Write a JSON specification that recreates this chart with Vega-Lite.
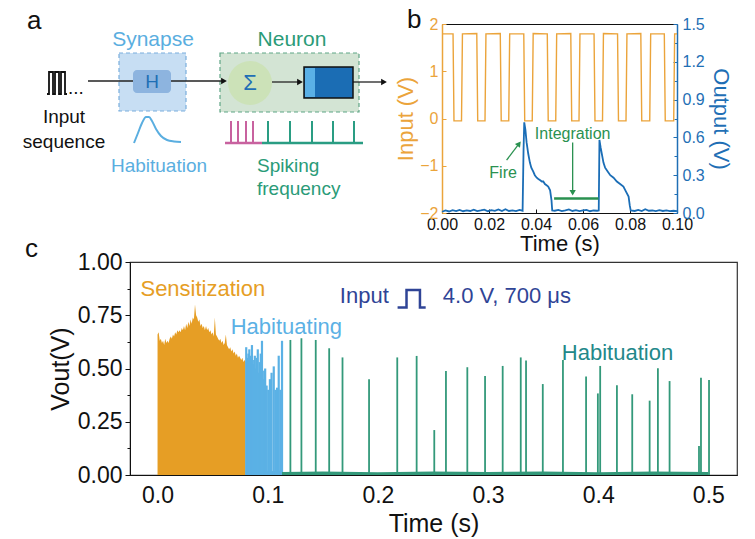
{
"$schema":"https://vega.github.io/schema/vega-lite/v6.json",
"width":607,"height":213,
"autosize":{"type":"none"},
"padding":{"left":130,"top":262,"right":18,"bottom":64},
"background":"white",
"config":{"view":{"stroke":"#333","strokeWidth":1.2},"font":"Liberation Sans","axis":{"grid":false,"labelFont":"Liberation Sans","titleFont":"Liberation Sans","titleFontWeight":"normal","labelColor":"#111","titleColor":"#111","domainColor":"#111","tickColor":"#111","labelFlush":false,"labelOverlap":false},"text":{"font":"Liberation Sans"}},
"resolve":{"scale":{"x":"independent","y":"independent"},"axis":{"x":"independent","y":"independent"}},
"layer":[
{
"encoding":{
"x":{"field":"t","type":"quantitative","scale":{"domain":[-0.025,0.526],"nice":false,"zero":false},"axis":{"orient":"bottom","values":[0,0.1,0.2,0.3,0.4,0.5],"format":".1f","title":"Time (s)","labelFontSize":23,"titleFontSize":25,"ticks":false,"labelPadding":9,"titlePadding":4}},
"y":{"field":"v","type":"quantitative","scale":{"domain":[0,1],"nice":false,"zero":false},"axis":{"orient":"left","values":[0,0.25,0.5,0.75,1],"format":".2f","title":"Vout(V)","labelFontSize":23,"titleFontSize":25,"tickSize":5,"labelPadding":3,"titlePadding":4}}
},
"layer":[
{"data":{"values":[{"t":0,"v":0.66},{"t":0.001,"v":0.67},{"t":0.002,"v":0.63},{"t":0.003,"v":0.64},{"t":0.004,"v":0.62},{"t":0.005,"v":0.63},{"t":0.006,"v":0.61},{"t":0.007,"v":0.64},{"t":0.008,"v":0.62},{"t":0.009,"v":0.63},{"t":0.01,"v":0.62},{"t":0.011,"v":0.64},{"t":0.012,"v":0.65},{"t":0.013,"v":0.64},{"t":0.014,"v":0.66},{"t":0.015,"v":0.65},{"t":0.016,"v":0.67},{"t":0.017,"v":0.66},{"t":0.018,"v":0.68},{"t":0.019,"v":0.67},{"t":0.02,"v":0.68},{"t":0.021,"v":0.67},{"t":0.022,"v":0.69},{"t":0.023,"v":0.68},{"t":0.024,"v":0.7},{"t":0.025,"v":0.68},{"t":0.026,"v":0.71},{"t":0.027,"v":0.69},{"t":0.028,"v":0.72},{"t":0.029,"v":0.7},{"t":0.03,"v":0.73},{"t":0.031,"v":0.71},{"t":0.032,"v":0.74},{"t":0.033,"v":0.73},{"t":0.034,"v":0.8},{"t":0.035,"v":0.75},{"t":0.036,"v":0.74},{"t":0.037,"v":0.72},{"t":0.038,"v":0.73},{"t":0.039,"v":0.7},{"t":0.04,"v":0.71},{"t":0.041,"v":0.69},{"t":0.042,"v":0.7},{"t":0.043,"v":0.68},{"t":0.044,"v":0.7},{"t":0.045,"v":0.68},{"t":0.046,"v":0.69},{"t":0.047,"v":0.67},{"t":0.048,"v":0.68},{"t":0.049,"v":0.66},{"t":0.05,"v":0.67},{"t":0.051,"v":0.65},{"t":0.052,"v":0.74},{"t":0.053,"v":0.66},{"t":0.054,"v":0.65},{"t":0.055,"v":0.64},{"t":0.056,"v":0.63},{"t":0.057,"v":0.64},{"t":0.058,"v":0.62},{"t":0.059,"v":0.63},{"t":0.06,"v":0.61},{"t":0.061,"v":0.62},{"t":0.062,"v":0.66},{"t":0.063,"v":0.61},{"t":0.064,"v":0.6},{"t":0.065,"v":0.59},{"t":0.066,"v":0.6},{"t":0.067,"v":0.58},{"t":0.068,"v":0.59},{"t":0.069,"v":0.57},{"t":0.07,"v":0.58},{"t":0.071,"v":0.56},{"t":0.072,"v":0.57},{"t":0.073,"v":0.55},{"t":0.074,"v":0.56},{"t":0.075,"v":0.55},{"t":0.076,"v":0.54},{"t":0.077,"v":0.55},{"t":0.078,"v":0.53},{"t":0.079,"v":0.54},{"t":0.08,"v":0.53}]},"mark":{"type":"area","color":"#E69E25"}},
{"data":{"values":[{"t":0.08,"v":0.02},{"t":0.09,"v":0.022},{"t":0.1,"v":0.018},{"t":0.113,"v":0.02}]},"mark":{"type":"area","color":"#5BB1E5"}},
{"data":{"values":[{"t":0.0805,"v":0.6},{"t":0.0815,"v":0.55},{"t":0.0825,"v":0.57},{"t":0.0833,"v":0.59},{"t":0.0845,"v":0.56},{"t":0.0857,"v":0.61},{"t":0.0865,"v":0.54},{"t":0.0875,"v":0.52},{"t":0.0883,"v":0.56},{"t":0.089,"v":0.5},{"t":0.09,"v":0.55},{"t":0.091,"v":0.59},{"t":0.092,"v":0.48},{"t":0.0928,"v":0.53},{"t":0.0937,"v":0.57},{"t":0.0948,"v":0.63},{"t":0.0958,"v":0.45},{"t":0.0968,"v":0.49},{"t":0.0977,"v":0.5},{"t":0.099,"v":0.42},{"t":0.1005,"v":0.4},{"t":0.102,"v":0.45},{"t":0.1035,"v":0.48},{"t":0.1055,"v":0.51},{"t":0.107,"v":0.4},{"t":0.1085,"v":0.41},{"t":0.11,"v":0.56},{"t":0.1115,"v":0.4},{"t":0.113,"v":0.63}]},"mark":{"type":"rule","color":"#5BB1E5","strokeWidth":2.2},"encoding":{"y2":{"datum":0}}},
{"data":{"values":[{"t":0.113,"v":0.014},{"t":0.15,"v":0.017},{"t":0.2,"v":0.013},{"t":0.25,"v":0.016},{"t":0.3,"v":0.014},{"t":0.35,"v":0.017},{"t":0.4,"v":0.013},{"t":0.45,"v":0.016},{"t":0.5,"v":0.014}]},"mark":{"type":"area","color":"#33997A"}},
{"data":{"values":[{"t":0.1206,"v":0.634},{"t":0.1306,"v":0.642},{"t":0.1436,"v":0.634},{"t":0.1558,"v":0.595},{"t":0.1679,"v":0.552},{"t":0.192,"v":0.449},{"t":0.2176,"v":0.552},{"t":0.2352,"v":0.559},{"t":0.2512,"v":0.211},{"t":0.2618,"v":0.488},{"t":0.2812,"v":0.506},{"t":0.2973,"v":0.465},{"t":0.3133,"v":0.512},{"t":0.3297,"v":0.552},{"t":0.3345,"v":0.537},{"t":0.3497,"v":0.427},{"t":0.368,"v":0.54},{"t":0.389,"v":0.462},{"t":0.3997,"v":0.383},{"t":0.4018,"v":0.512},{"t":0.417,"v":0.421},{"t":0.4309,"v":0.379},{"t":0.4467,"v":0.349},{"t":0.4542,"v":0.501},{"t":0.4648,"v":0.441},{"t":0.4915,"v":0.136},{"t":0.4933,"v":0.457},{"t":0.5006,"v":0.446}]},"mark":{"type":"rule","color":"#33997A","strokeWidth":1.8},"encoding":{"y2":{"datum":0}}},
{"data":{"values":[{"t":-0.0155,"v":0.873,"label":"Sensitization"}]},"mark":{"type":"text","align":"left","baseline":"middle","fontSize":22,"color":"#E69E25"},"encoding":{"text":{"field":"label"}}},
{"data":{"values":[{"t":0.0664,"v":0.695,"label":"Habituating"}]},"mark":{"type":"text","align":"left","baseline":"middle","fontSize":22,"color":"#5BB1E5"},"encoding":{"text":{"field":"label"}}},
{"data":{"values":[{"t":0.1655,"v":0.84,"label":"Input"},{"t":0.259,"v":0.84,"label":"4.0 V, 700 μs"}]},"mark":{"type":"text","align":"left","baseline":"middle","fontSize":22,"color":"#2F4496"},"encoding":{"text":{"field":"label"}}},
{"data":{"values":[{"t":0.2179,"v":0.786,"o":1},{"t":0.226,"v":0.786,"o":2},{"t":0.226,"v":0.869,"o":3},{"t":0.2382,"v":0.869,"o":4},{"t":0.2382,"v":0.786,"o":5},{"t":0.2434,"v":0.786,"o":6}]},"mark":{"type":"line","color":"#2F4496","strokeWidth":2.5},"encoding":{"order":{"field":"o"}}},
{"data":{"values":[{"t":0.367,"v":0.573,"label":"Habituation"}]},"mark":{"type":"text","align":"left","baseline":"middle","fontSize":22,"color":"#23888A"},"encoding":{"text":{"field":"label"}}}
]
},
{
"data":{"values":[{"v":0.5}]},
"mark":{"type":"point","opacity":0},
"encoding":{"y":{"field":"v","type":"quantitative","scale":{"domain":[0,1],"nice":false,"zero":false},"axis":{"orient":"left","values":[0.125,0.375,0.625,0.875],"labels":false,"domain":false,"title":null,"tickSize":3}}}
},
{
"encoding":{
"x":{"field":"x","type":"quantitative","scale":{"domain":[0,442],"range":[-130,312],"nice":false,"zero":false},"axis":null},
"y":{"field":"y","type":"quantitative","scale":{"domain":[0,539],"range":[-262,277],"nice":false,"zero":false},"axis":null}
},
"layer":[
{"data":{"values":[{"x":119,"x2":186,"y":53,"y2":111}]},"mark":{"type":"rect","fill":"#C7DEF3","stroke":"#7AAEDD","strokeDash":[4,3],"strokeWidth":1.2},"encoding":{"x2":{"field":"x2"},"y2":{"field":"y2"}}},
{"data":{"values":[{"x":220,"x2":359,"y":53,"y2":112}]},"mark":{"type":"rect","fill":"#D3E4D4","stroke":"#5FA585","strokeDash":[4,3],"strokeWidth":1.2},"encoding":{"x2":{"field":"x2"},"y2":{"field":"y2"}}},
{"data":{"values":[{"x":133,"x2":171,"y":70,"y2":93}]},"mark":{"type":"rect","fill":"#8DB4DF","cornerRadius":4},"encoding":{"x2":{"field":"x2"},"y2":{"field":"y2"}}},
{"data":{"values":[{"x":88,"x2":133,"y":81},{"x":171,"x2":222,"y":81},{"x":272,"x2":299,"y":82},{"x":353,"x2":382,"y":82}]},"mark":{"type":"rule","color":"#222","strokeWidth":1.3},"encoding":{"x2":{"field":"x2"}}},
{"data":{"values":[{"x":224,"y":81},{"x":300,"y":82},{"x":384,"y":82}]},"mark":{"type":"point","shape":"triangle-right","filled":true,"size":45,"color":"#111","opacity":1}},
{"data":{"values":[{"x":250,"y":83}]},"mark":{"type":"point","shape":"circle","filled":true,"size":1936,"color":"#CCE2B8","opacity":1}},
{"data":{"values":[{"x":304,"x2":353,"y":67,"y2":98}]},"mark":{"type":"rect","fill":"#1B6DB4","stroke":"#111","strokeWidth":1.5},"encoding":{"x2":{"field":"x2"},"y2":{"field":"y2"}}},
{"data":{"values":[{"x":305,"x2":315,"y":68,"y2":97}]},"mark":{"type":"rect","fill":"#5AB0E6"},"encoding":{"x2":{"field":"x2"},"y2":{"field":"y2"}}},
{"data":{"values":[{"x":47,"y":94,"o":1},{"x":49,"y":94,"o":2},{"x":49,"y":72,"o":3},{"x":53,"y":72,"o":4},{"x":53,"y":94,"o":5},{"x":55,"y":94,"o":6},{"x":55,"y":72,"o":7},{"x":59,"y":72,"o":8},{"x":59,"y":94,"o":9},{"x":61,"y":94,"o":10},{"x":61,"y":72,"o":11},{"x":65,"y":72,"o":12},{"x":65,"y":94,"o":13},{"x":67,"y":94,"o":14}]},"mark":{"type":"line","color":"#111","strokeWidth":1.8},"encoding":{"order":{"field":"o"}}},
{"data":{"values":[{"x":134,"y":143,"o":1},{"x":138,"y":133,"o":2},{"x":142,"y":123,"o":3},{"x":146,"y":117,"o":4},{"x":149,"y":117,"o":5},{"x":152,"y":121,"o":6},{"x":156,"y":129,"o":7},{"x":161,"y":136,"o":8},{"x":167,"y":140,"o":9},{"x":174,"y":141.5,"o":10},{"x":181,"y":142,"o":11}]},"mark":{"type":"line","color":"#5AAEE0","strokeWidth":2,"interpolate":"monotone"},"encoding":{"order":{"field":"o"}}},
{"data":{"values":[{"x":231,"y":121,"y2":143},{"x":238,"y":121,"y2":143},{"x":246,"y":121,"y2":143},{"x":253,"y":121,"y2":143}]},"mark":{"type":"rule","color":"#C8629F","strokeWidth":2},"encoding":{"y2":{"field":"y2"}}},
{"data":{"values":[{"x":225,"x2":262,"y":143}]},"mark":{"type":"rule","color":"#C8629F","strokeWidth":2.5},"encoding":{"x2":{"field":"x2"}}},
{"data":{"values":[{"x":268,"y":121,"y2":143},{"x":290,"y":121,"y2":143},{"x":312,"y":121,"y2":143},{"x":333,"y":121,"y2":143},{"x":354,"y":121,"y2":143}]},"mark":{"type":"rule","color":"#2A9D83","strokeWidth":2},"encoding":{"y2":{"field":"y2"}}},
{"data":{"values":[{"x":262,"x2":363,"y":143}]},"mark":{"type":"rule","color":"#2A9D83","strokeWidth":2.5},"encoding":{"x2":{"field":"x2"}}},
{"data":{"values":[{"x":27,"y":21,"label":"a"},{"x":25,"y":249,"label":"c"}]},"mark":{"type":"text","align":"left","baseline":"middle","fontSize":26,"color":"#111"},"encoding":{"text":{"field":"label"}}},
{"data":{"values":[{"x":153,"y":40,"label":"Synapse"}]},"mark":{"type":"text","align":"center","baseline":"middle","fontSize":21,"color":"#5AAEE0"},"encoding":{"text":{"field":"label"}}},
{"data":{"values":[{"x":292,"y":40,"label":"Neuron"}]},"mark":{"type":"text","align":"center","baseline":"middle","fontSize":21,"color":"#2A9B78"},"encoding":{"text":{"field":"label"}}},
{"data":{"values":[{"x":152,"y":82,"label":"H"}]},"mark":{"type":"text","align":"center","baseline":"middle","fontSize":19,"color":"#1F6FB5"},"encoding":{"text":{"field":"label"}}},
{"data":{"values":[{"x":250,"y":83,"label":"Σ"}]},"mark":{"type":"text","align":"center","baseline":"middle","fontSize":22,"color":"#1F6FB5"},"encoding":{"text":{"field":"label"}}},
{"data":{"values":[{"x":64,"y":117,"label":"Input"},{"x":64,"y":142,"label":"sequence"}]},"mark":{"type":"text","align":"center","baseline":"middle","fontSize":19,"color":"#111"},"encoding":{"text":{"field":"label"}}},
{"data":{"values":[{"x":68,"y":94,"label":"..."}]},"mark":{"type":"text","align":"left","baseline":"alphabetic","fontSize":19,"color":"#111"},"encoding":{"text":{"field":"label"}}},
{"data":{"values":[{"x":159,"y":166,"label":"Habituation"}]},"mark":{"type":"text","align":"center","baseline":"middle","fontSize":19,"color":"#5AAEE0"},"encoding":{"text":{"field":"label"}}},
{"data":{"values":[{"x":257,"y":166,"label":"Spiking"},{"x":257,"y":189,"label":"frequency"}]},"mark":{"type":"text","align":"left","baseline":"middle","fontSize":19,"color":"#2A9B78"},"encoding":{"text":{"field":"label"}}}
]
},
{
"encoding":{
"x":{"field":"t","type":"quantitative","scale":{"domain":[0,0.1],"range":[312,547],"nice":false,"zero":false},"axis":{"orient":"bottom","offset":-262,"values":[0,0.02,0.04,0.06,0.08,0.1],"format":".2f","title":"Time (s)","labelFontSize":16,"titleFontSize":22,"tickSize":-4,"labelPadding":7,"titlePadding":1,"domainWidth":1.2}},
"y":{"field":"vin","type":"quantitative","scale":{"domain":[-2,2],"range":[-49,-238],"nice":false,"zero":false},"axis":{"orient":"left","offset":-312,"values":[-2,-1,0,1,2],"format":"d","title":"Input (V)","labelFontSize":16,"titleFontSize":22,"labelColor":"#EBA43B","titleColor":"#EBA43B","domainColor":"#EBA43B","tickColor":"#EBA43B","tickSize":-4,"labelPadding":8,"titlePadding":2,"domainWidth":1.5}}
},
"layer":[
{"data":{"values":[{"t":0,"vin":1.79},{"t":0.0047,"vin":1.79},{"t":0.0051,"vin":-0.05},{"t":0.0083,"vin":-0.05},{"t":0.0087,"vin":1.79},{"t":0.0148,"vin":1.8},{"t":0.0152,"vin":-0.05},{"t":0.0183,"vin":-0.05},{"t":0.0187,"vin":1.79},{"t":0.0248,"vin":1.8},{"t":0.0252,"vin":-0.05},{"t":0.0284,"vin":-0.05},{"t":0.0288,"vin":1.79},{"t":0.0348,"vin":1.79},{"t":0.0352,"vin":-0.05},{"t":0.0384,"vin":-0.05},{"t":0.0388,"vin":1.8},{"t":0.0448,"vin":1.79},{"t":0.0452,"vin":-0.05},{"t":0.0484,"vin":-0.05},{"t":0.0488,"vin":1.79},{"t":0.0548,"vin":1.8},{"t":0.0552,"vin":-0.05},{"t":0.0583,"vin":-0.05},{"t":0.0587,"vin":1.79},{"t":0.0647,"vin":1.79},{"t":0.0651,"vin":-0.05},{"t":0.0683,"vin":-0.05},{"t":0.0687,"vin":1.8},{"t":0.0747,"vin":1.79},{"t":0.0751,"vin":-0.05},{"t":0.0783,"vin":-0.05},{"t":0.0787,"vin":1.79},{"t":0.0846,"vin":1.8},{"t":0.085,"vin":-0.05},{"t":0.0884,"vin":-0.05},{"t":0.0888,"vin":1.79},{"t":0.0946,"vin":1.79},{"t":0.095,"vin":-0.05},{"t":0.0986,"vin":-0.05},{"t":0.099,"vin":1.79},{"t":0.1,"vin":1.79}]},"mark":{"type":"line","color":"#EBA43B","strokeWidth":1.4}},
{"data":{"values":[{"t":-0.0149,"vin":2.09,"label":"b"}]},"mark":{"type":"text","align":"left","baseline":"middle","fontSize":26,"color":"#111"},"encoding":{"text":{"field":"label"}}}
]
},
{
"encoding":{
"x":{"field":"t","type":"quantitative","scale":{"domain":[0,0.1],"range":[312,547],"nice":false,"zero":false},"axis":{"orient":"top","offset":238,"labels":false,"ticks":false,"title":null,"domainColor":"#111","domainWidth":1.2}},
"y":{"field":"vout","type":"quantitative","scale":{"domain":[0,1.5],"range":[-49,-238],"nice":false,"zero":false},"axis":{"orient":"right","offset":-60,"values":[0,0.3,0.6,0.9,1.2,1.5],"format":".1f","title":"Output (V)","labelFontSize":16,"titleFontSize":22,"labelColor":"#1F6FB5","titleColor":"#1F6FB5","domainColor":"#1F6FB5","tickColor":"#1F6FB5","tickSize":-4,"labelPadding":9,"titlePadding":4,"domainWidth":1.5}}
},
"layer":[
{"data":{"values":[{"t":0,"vout":0.01},{"t":0.0015,"vout":0.02},{"t":0.003,"vout":0.012},{"t":0.0045,"vout":0.022},{"t":0.006,"vout":0.015},{"t":0.0075,"vout":0.025},{"t":0.009,"vout":0.014},{"t":0.0105,"vout":0.02},{"t":0.012,"vout":0.016},{"t":0.0135,"vout":0.027},{"t":0.015,"vout":0.015},{"t":0.0165,"vout":0.02},{"t":0.018,"vout":0.026},{"t":0.0195,"vout":0.014},{"t":0.021,"vout":0.022},{"t":0.0225,"vout":0.017},{"t":0.024,"vout":0.028},{"t":0.0255,"vout":0.015},{"t":0.027,"vout":0.03},{"t":0.0285,"vout":0.016},{"t":0.03,"vout":0.021},{"t":0.0315,"vout":0.015},{"t":0.033,"vout":0.024},{"t":0.0343,"vout":0.018},{"t":0.0347,"vout":0.5},{"t":0.035,"vout":0.72},{"t":0.0355,"vout":0.66},{"t":0.036,"vout":0.56},{"t":0.0367,"vout":0.47},{"t":0.0374,"vout":0.4},{"t":0.038,"vout":0.36},{"t":0.0388,"vout":0.33},{"t":0.0395,"vout":0.3},{"t":0.0403,"vout":0.28},{"t":0.041,"vout":0.27},{"t":0.0418,"vout":0.26},{"t":0.0425,"vout":0.25},{"t":0.0431,"vout":0.25},{"t":0.0438,"vout":0.23},{"t":0.0445,"vout":0.22},{"t":0.0452,"vout":0.21},{"t":0.046,"vout":0.18},{"t":0.0466,"vout":0.1},{"t":0.0469,"vout":0.02},{"t":0.048,"vout":0.018},{"t":0.0495,"vout":0.024},{"t":0.051,"vout":0.015},{"t":0.0525,"vout":0.02},{"t":0.054,"vout":0.028},{"t":0.0555,"vout":0.016},{"t":0.057,"vout":0.022},{"t":0.0585,"vout":0.015},{"t":0.06,"vout":0.02},{"t":0.0615,"vout":0.025},{"t":0.063,"vout":0.014},{"t":0.0645,"vout":0.02},{"t":0.066,"vout":0.018},{"t":0.0667,"vout":0.02},{"t":0.067,"vout":0.58},{"t":0.0675,"vout":0.52},{"t":0.068,"vout":0.47},{"t":0.0687,"vout":0.4},{"t":0.0694,"vout":0.36},{"t":0.0705,"vout":0.33},{"t":0.0716,"vout":0.3},{"t":0.073,"vout":0.28},{"t":0.0744,"vout":0.25},{"t":0.0758,"vout":0.23},{"t":0.0772,"vout":0.21},{"t":0.0783,"vout":0.17},{"t":0.0794,"vout":0.13},{"t":0.0799,"vout":0.06},{"t":0.0803,"vout":0.02},{"t":0.082,"vout":0.016},{"t":0.0835,"vout":0.024},{"t":0.085,"vout":0.015},{"t":0.0865,"vout":0.03},{"t":0.088,"vout":0.018},{"t":0.0895,"vout":0.02},{"t":0.091,"vout":0.015},{"t":0.0925,"vout":0.022},{"t":0.094,"vout":0.016},{"t":0.0955,"vout":0.02},{"t":0.097,"vout":0.015},{"t":0.0985,"vout":0.018},{"t":0.1,"vout":0.015}]},"mark":{"type":"line","color":"#1A6DB6","strokeWidth":1.8}},
{"data":{"values":[{"t":0.0477,"t2":0.0666,"vout":0.116,"vout2":0.116}]},"mark":{"type":"rule","color":"#2A9150","strokeWidth":2.5},"encoding":{"x2":{"field":"t2"},"y2":{"field":"vout2"}}},
{"data":{"values":[{"t":0.0556,"t2":0.0556,"vout":0.56,"vout2":0.15},{"t":0.0275,"t2":0.0328,"vout":0.42,"vout2":0.55}]},"mark":{"type":"rule","color":"#2A9150","strokeWidth":1.3},"encoding":{"x2":{"field":"t2"},"y2":{"field":"vout2"}}},
{"data":{"values":[{"t":0.0556,"vout":0.16}]},"mark":{"type":"point","shape":"triangle-down","filled":true,"size":40,"color":"#2A9150","opacity":1}},
{"data":{"values":[{"t":0.0328,"vout":0.55}]},"mark":{"type":"point","shape":"triangle-up","angle":37,"filled":true,"size":40,"color":"#2A9150","opacity":1}},
{"data":{"values":[{"t":0.0556,"vout":0.63,"label":"Integration"},{"t":0.026,"vout":0.317,"label":"Fire"}]},"mark":{"type":"text","align":"center","baseline":"middle","fontSize":16,"color":"#2A9150"},"encoding":{"text":{"field":"label"}}}
]
},
{
"data":{"values":[{"vout":0.75}]},
"mark":{"type":"point","opacity":0},
"encoding":{"y":{"field":"vout","type":"quantitative","scale":{"domain":[0,1.5],"range":[-49,-238],"nice":false,"zero":false},"axis":{"orient":"right","offset":-60,"values":[0.15,0.45,0.75,1.05,1.35],"labels":false,"domain":false,"title":null,"tickSize":-3,"tickColor":"#1F6FB5"}}}
}
]
}
